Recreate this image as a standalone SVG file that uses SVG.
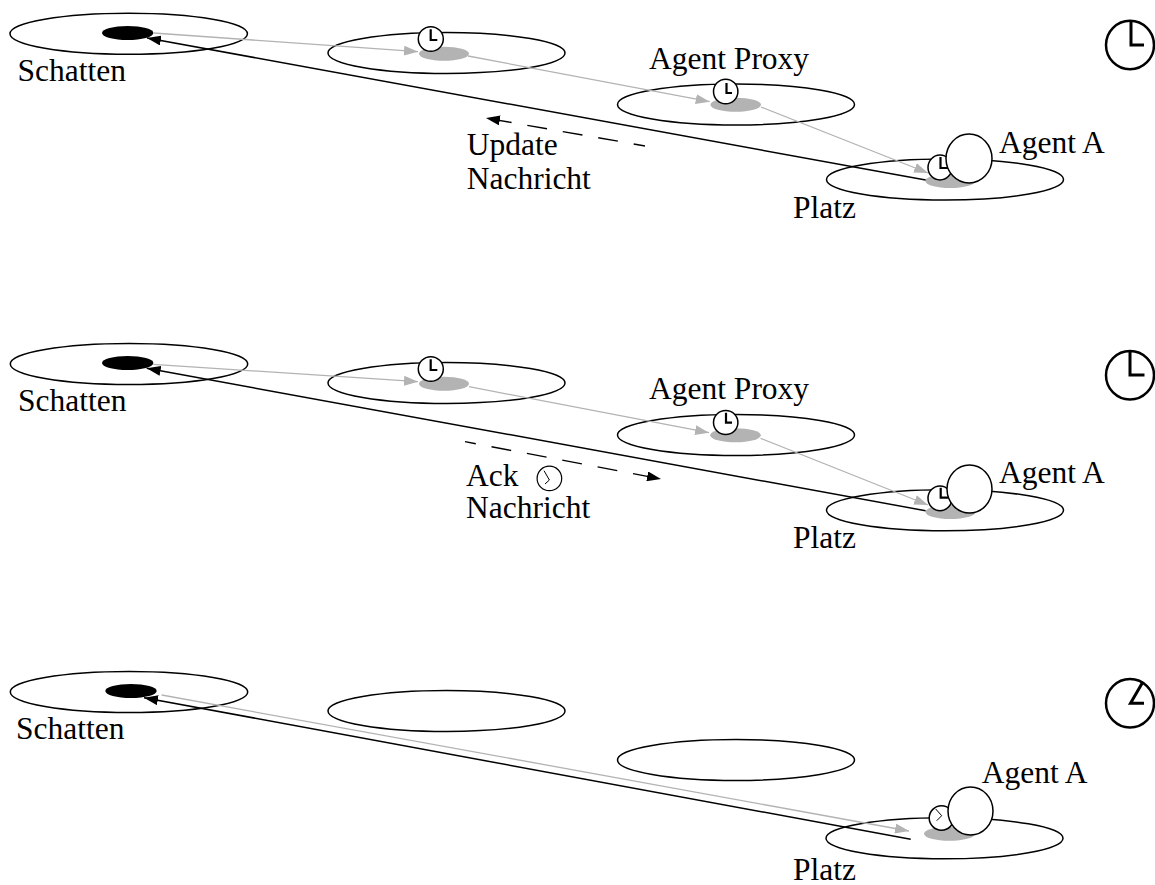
<svg xmlns="http://www.w3.org/2000/svg" width="1155" height="885" viewBox="0 0 1155 885">
<style>
text{font-family:"Liberation Serif","Times New Roman",serif;font-size:31.5px;fill:#000}
.p{fill:none;stroke:#000;stroke-width:1.5}
.w{fill:#fff;stroke:#000;stroke-width:1.5}
.s{fill:#b3b3b3;stroke:none}
.k{fill:#000;stroke:none}
.g{fill:none;stroke:#b3b3b3;stroke-width:1.3;marker-end:url(#ag)}
.b{fill:none;stroke:#000;stroke-width:1.5;marker-end:url(#ab)}
.n{fill:none;stroke:#000;stroke-width:1}
.d{fill:none;stroke:#000;stroke-width:1.3;stroke-dasharray:20 16;marker-end:url(#ab)}
.h{fill:none;stroke:#000;stroke-width:2.2}
.bc{fill:#fff;stroke:#000;stroke-width:2.5}
.bh{fill:none;stroke:#000;stroke-width:3}
</style>
<defs>
<marker id="ag" markerUnits="userSpaceOnUse" markerWidth="16" markerHeight="10" refX="14" refY="5" orient="auto"><path d="M0 0L14 5L0 10z" fill="#b3b3b3"/></marker>
<marker id="ab" markerUnits="userSpaceOnUse" markerWidth="16" markerHeight="10" refX="14" refY="5" orient="auto"><path d="M0 0L14 5L0 10z" fill="#000"/></marker>
</defs>
<g id="panel1">
<g id="p1-schatten"><ellipse class="p" cx="128.700" cy="33.700" rx="118.700" ry="20.500"/><ellipse class="k" cx="127.700" cy="33" rx="25.700" ry="7"/><text x="17.500" y="81">Schatten</text></g>
<g id="p1-place2"><ellipse class="p" cx="446.500" cy="53" rx="118.500" ry="20.500"/><ellipse class="s" cx="444" cy="53.700" rx="25" ry="7"/><ellipse class="w" cx="430.800" cy="39" rx="12.500" ry="12.300"/><path class="h" d="M430.700 29.300V40H437.300"/></g>
<g id="p1-proxy"><ellipse class="p" cx="736" cy="104.500" rx="118.500" ry="20.500"/><ellipse class="s" cx="735.700" cy="104.700" rx="25.300" ry="7"/><ellipse class="w" cx="725.700" cy="91.500" rx="12.200" ry="12.300"/><path class="h" d="M726.500 83V93H732"/><text x="649" y="68.500">Agent Proxy</text></g>
<g id="p1-platz"><ellipse class="p" cx="945" cy="179.500" rx="118.500" ry="20.500"/><ellipse class="s" cx="950.300" cy="181" rx="25" ry="7"/><ellipse class="w" cx="940" cy="167.500" rx="12" ry="12.400"/><path class="h" d="M940.500 157V168H949"/><ellipse class="w" cx="969" cy="158.500" rx="23" ry="24.500"/><text x="999" y="152.500">Agent A</text><text x="793" y="218">Platz</text></g>
<g id="p1-clock"><ellipse class="bc" cx="1130" cy="45" rx="24" ry="24.300"/><path class="bh" d="M1131 21V45H1144"/></g>
<text x="466.700" y="155">Update</text><text x="466.700" y="189.300">Nachricht</text>
</g>
<g id="panel2">
<g id="p2-schatten"><ellipse class="p" cx="129" cy="364" rx="118.700" ry="20.500"/><ellipse class="k" cx="127.700" cy="363" rx="25.700" ry="7"/><text x="18" y="411">Schatten</text></g>
<g id="p2-place2"><ellipse class="p" cx="446.500" cy="383" rx="118.500" ry="20.500"/><ellipse class="s" cx="444" cy="383.700" rx="25" ry="7"/><ellipse class="w" cx="430.800" cy="369" rx="12.500" ry="12.300"/><path class="h" d="M430.700 359.300V370H437.300"/></g>
<g id="p2-proxy"><ellipse class="p" cx="736" cy="435" rx="118.500" ry="20.500"/><ellipse class="s" cx="735.500" cy="435.300" rx="25.300" ry="7"/><ellipse class="w" cx="725.700" cy="422.500" rx="12.200" ry="12"/><path class="h" d="M726 412.700V422.700H732"/><text x="649" y="399">Agent Proxy</text></g>
<g id="p2-platz"><ellipse class="p" cx="945" cy="510.300" rx="118.500" ry="20.500"/><ellipse class="s" cx="950.500" cy="512" rx="25" ry="7"/><ellipse class="w" cx="940" cy="498.300" rx="12" ry="12.400"/><path class="h" d="M940.700 487.700V497.700H948"/><ellipse class="w" cx="969.500" cy="489" rx="22.500" ry="24"/><text x="999" y="482.700">Agent A</text><text x="793" y="548">Platz</text></g>
<g id="p2-clock"><ellipse class="bc" cx="1130" cy="375.300" rx="24" ry="24.300"/><path class="bh" d="M1130 351V375H1144.500"/></g>
<text x="466" y="486">Ack</text><ellipse class="p" cx="549.400" cy="478.400" rx="12.300" ry="12.300" style="stroke-width:1.2"/><path class="n" d="M544 470.700L549.400 480L545 484"/><text x="466" y="518">Nachricht</text>
</g>
<g id="panel3">
<g id="p3-schatten"><ellipse class="p" cx="129" cy="692" rx="118.700" ry="20.500"/><ellipse class="k" cx="131" cy="691" rx="25.700" ry="7"/><text x="16" y="739">Schatten</text></g>
<g id="p3-place2"><ellipse class="p" cx="446.500" cy="711" rx="118.500" ry="20.500"/></g>
<g id="p3-place3"><ellipse class="p" cx="736" cy="760" rx="118.500" ry="20.500"/></g>
<g id="p3-platz"><ellipse class="p" cx="944.500" cy="838.300" rx="118.500" ry="20.500"/><ellipse class="s" cx="949.500" cy="833.700" rx="25.500" ry="7"/><ellipse class="w" cx="941.500" cy="818" rx="12.300" ry="12.200"/><path class="n" d="M935.700 809L941.700 815.700L936.700 820.700"/><ellipse class="w" cx="970.500" cy="811" rx="22.500" ry="24"/><text x="981.700" y="783">Agent A</text><text x="793" y="880">Platz</text></g>
<g id="p3-clock"><ellipse class="bc" cx="1130" cy="703.300" rx="24" ry="24.300"/><path class="bh" d="M1143 681.700L1130.500 703.300H1144"/></g>
</g>
<g id="connectors">
<path class="g" d="M153.500 33L418 51.700"/><path class="g" d="M468 56L709.700 101.700"/><path class="g" d="M761 107L928 173"/><path class="b" d="M925.700 180L147 38"/><path class="d" style="stroke-dashoffset:8.500" d="M645 146L486 118"/>
<path class="g" d="M153.300 364.300L418 381.700"/><path class="g" d="M469 386.700L709 432.700"/><path class="g" d="M760.600 438.300L928 505"/><path class="b" d="M925.600 510.700L146.700 368.300"/><path class="d" style="stroke-dashoffset:9" d="M465 441.700L661 479"/>
<path class="g" d="M161.700 695L909 831"/><path class="b" d="M910.700 839.300L144 697.700"/>
</g>
</svg>
